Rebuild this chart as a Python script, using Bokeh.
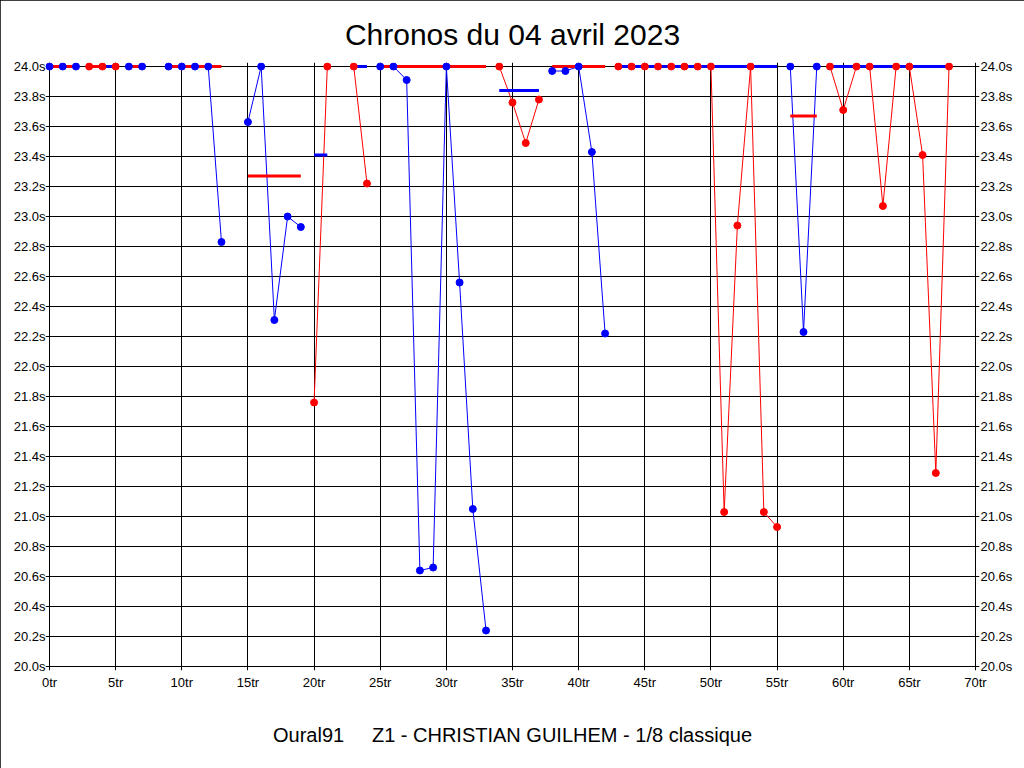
from bokeh.plotting import figure
from bokeh.models import (FixedTicker, PrintfTickFormatter, LinearAxis, Range1d,
                          ColumnDataSource)
from bokeh.embed import file_html
from bokeh.resources import INLINE

BLUE = "#0000FF"
RED = "#FF0000"

# ---- data -------------------------------------------------------------
laps = [0, 1, 2, 3, 4, 5, 6, 7, 9, 10, 11, 12, 13,
        15, 16, 17, 18, 19, 20, 21, 23, 24,
        25, 26, 27, 28, 29, 30, 31, 32, 33,
        34, 35, 36, 37, 38, 39, 40, 41, 42,
        43, 44, 45, 46, 47, 48, 49, 50, 51, 52, 53, 54, 55,
        56, 57, 58, 59, 60, 61, 62, 63, 64, 65, 66, 67, 68]
lap_times = [24.00, 24.00, 24.00, 24.00, 24.00, 24.00, 24.00, 24.00, 24.00, 24.00, 24.00, 24.00, 22.83,
             23.63, 24.00, 22.31, 23.00, 22.93, 21.76, 24.00, 24.00, 23.22,
             24.00, 24.00, 23.91, 20.64, 20.66, 24.00, 22.56, 21.05, 20.24,
             24.00, 23.76, 23.49, 23.78, 23.97, 23.97, 24.00, 23.43, 22.22,
             24.00, 24.00, 24.00, 24.00, 24.00, 24.00, 24.00, 24.00, 21.03, 22.94, 24.00, 21.03, 20.93,
             24.00, 22.23, 24.00, 24.00, 23.71, 24.00, 24.00, 23.07, 24.00, 24.00, 23.41, 21.29, 24.00]
stint_of_lap = [0, 0, 0, 1, 2, 2, 3, 3, 4, 4, 4, 4, 4,
                5, 5, 5, 5, 5, 6, 6, 7, 7,
                8, 8, 8, 8, 8, 8, 8, 8, 8,
                9, 9, 9, 9, 10, 10, 10, 10, 10,
                11, 11, 11, 11, 11, 11, 11, 11, 11, 11, 11, 11, 11,
                12, 12, 12, 13, 13, 13, 13, 13, 13, 13, 13, 13, 13]
stint_colors = [BLUE, RED, RED, BLUE, BLUE, BLUE, RED, RED, BLUE, RED, BLUE, RED, BLUE, RED]

# stint averages (horizontal bars)
avg_from = [0, 3, 4, 6, 9, 15, 20, 23, 25, 34, 38, 43, 56, 59]
avg_to = [2, 4, 5, 7, 13, 19, 21, 24, 33, 37, 42, 55, 58, 68]
avg_time = [24.00, 24.00, 24.00, 24.00, 24.00, 23.27, 23.41, 24.00, 24.00, 23.84, 24.00, 24.00, 23.67, 24.00]
avg_color = [RED, RED, BLUE, RED, RED, RED, BLUE, BLUE, RED, BLUE, RED, BLUE, RED, BLUE]

x_ticks = [0, 5, 10, 15, 20, 25, 30, 35, 40, 45, 50, 55, 60, 65, 70]
y_ticks = [20.0, 20.2, 20.4, 20.6, 20.8, 21.0, 21.2, 21.4, 21.6, 21.8, 22.0,
           22.2, 22.4, 22.6, 22.8, 23.0, 23.2, 23.4, 23.6, 23.8, 24.0]

title_text = "Chronos du 04 avril 2023"
footer_text = "Oural91\u00a0\u00a0\u00a0\u00a0\u00a0Z1 - CHRISTIAN GUILHEM - 1/8 classique"

FONT = "Liberation Sans"

# small padding so that marks sitting on the box edges are not clipped
X_PAD = 4 / (926 / 70)
Y_PAD = 4 / 150.0

# ---- figure -----------------------------------------------------------
p = figure(width=1024, height=768, output_backend="svg", toolbar_location=None,
           x_range=Range1d(x_ticks[0] - X_PAD, x_ticks[-1] + X_PAD),
           y_range=Range1d(y_ticks[0] - Y_PAD, y_ticks[-1] + Y_PAD),
           min_border_left=45, min_border_right=45, min_border_top=62, min_border_bottom=98,
           background_fill_color="white", border_fill_color="white",
           styles={"outline": "1px solid black", "outline-offset": "-1px"})

p.title.text = title_text
p.title.align = "center"
p.title.text_font = FONT
p.title.text_font_size = "30px"
p.title.text_font_style = "normal"
p.title.text_color = "black"
p.title.standoff = 23

p.outline_line_color = None

xt = FixedTicker(ticks=x_ticks)
yt = FixedTicker(ticks=y_ticks)

p.xaxis.ticker = xt
p.xaxis.formatter = PrintfTickFormatter(format="%dtr")
p.yaxis.ticker = yt
p.yaxis.formatter = PrintfTickFormatter(format="%.1fs")

right_axis = LinearAxis(ticker=yt, formatter=PrintfTickFormatter(format="%.1fs"))
p.add_layout(right_axis, "right")

for ax in [p.xaxis[0], p.yaxis[0], right_axis]:
    ax.major_tick_line_color = None
    ax.minor_tick_line_color = None
    ax.major_tick_out = 0
    ax.major_tick_in = 0
    ax.axis_line_color = None
    ax.major_label_text_font = FONT
    ax.major_label_text_font_size = "13px"
    ax.major_label_text_color = "black"
    ax.major_label_standoff = 0

right_axis.major_label_standoff = 1
p.xaxis.major_label_standoff = 4
p.xaxis.axis_label = footer_text
p.xaxis.axis_label_text_font = FONT
p.xaxis.axis_label_text_font_size = "20px"
p.xaxis.axis_label_text_font_style = "normal"
p.xaxis.axis_label_text_color = "black"
p.xaxis.axis_label_standoff = 31

p.xgrid.ticker = xt
p.ygrid.ticker = yt
for g in [p.xgrid[0], p.ygrid[0]]:
    g.grid_line_color = "black"
    g.grid_line_alpha = 1
    g.grid_line_width = 1

# thin lines connecting laps of the same stint
xs, ys, cs = [], [], []
for s, col in enumerate(stint_colors):
    lx = [l for l, st in zip(laps, stint_of_lap) if st == s]
    ly = [t for t, st in zip(lap_times, stint_of_lap) if st == s]
    xs.append(lx)
    ys.append(ly)
    cs.append(col)
p.multi_line(xs=xs, ys=ys, line_color=cs, line_width=1)

# stint averages
p.segment(x0=avg_from, y0=avg_time, x1=avg_to, y1=avg_time, line_color=avg_color, line_width=3)

# points
pt_colors = [stint_colors[s] for s in stint_of_lap]
src = ColumnDataSource(dict(x=laps, y=lap_times, c=pt_colors))
p.scatter("x", "y", source=src, size=7, fill_color="c", line_color="c")

open("out.html", "w").write(file_html(p, INLINE))
